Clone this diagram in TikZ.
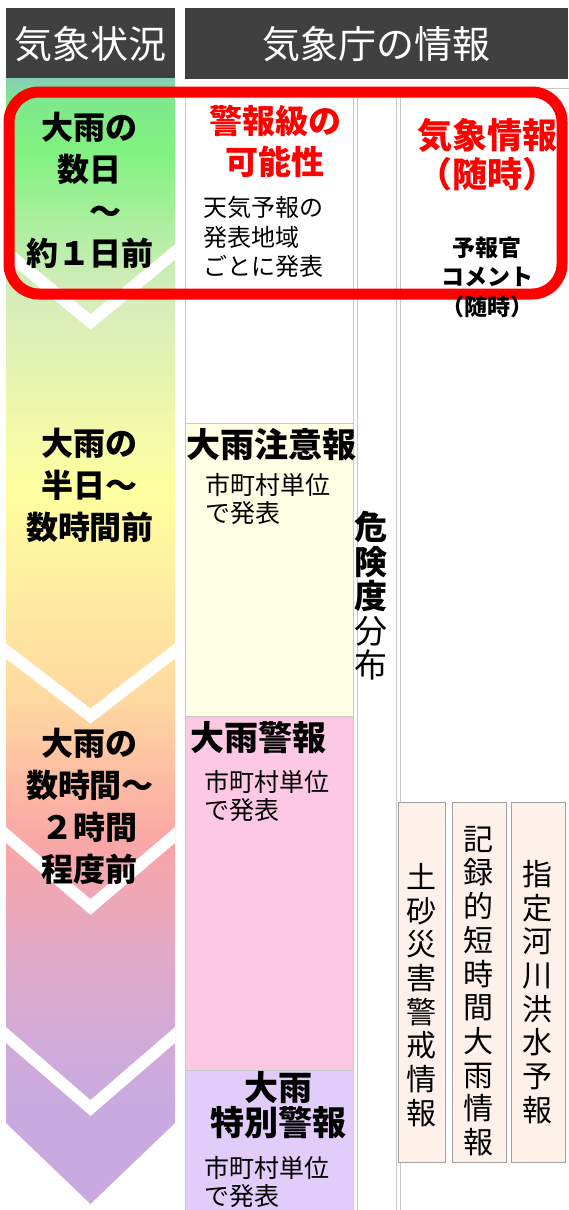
\documentclass[tikz,border=0pt]{standalone}
\usepackage{fontspec}
\setmainfont{Noto Sans CJK JP}
\usetikzlibrary{positioning}
\definecolor{headgray}{HTML}{404040}
\definecolor{linegray}{HTML}{C8C8C8}
\definecolor{boxgray}{HTML}{A0A0A0}
\definecolor{alertred}{HTML}{FF0000}
\definecolor{advisory}{HTML}{FFFFE5}
\definecolor{warning}{HTML}{FDC8E3}
\definecolor{special}{HTML}{E2CCF9}
\definecolor{bulletin}{HTML}{FDF1E9}
\definecolor{teal}{RGB}{134,206,182}
\definecolor{mint}{RGB}{126,232,140}
\definecolor{lime}{RGB}{128,242,128}
\definecolor{pale}{RGB}{212,236,188}
\definecolor{lemon}{RGB}{255,255,160}
\definecolor{peach}{RGB}{255,216,160}
\definecolor{salmon}{RGB}{250,166,166}
\definecolor{mauve}{RGB}{215,170,210}
\definecolor{lilac}{RGB}{200,170,225}

\tikzset{
	headbox/.style={
		fill=headgray,
		text=white,
		anchor=north west,
		inner sep=0pt,
		minimum height=71pt,
		font=\fontsize{38}{40}\selectfont,
	},
	colbox/.style={
		draw=linegray,
		line width=1.3pt,
		anchor=north west,
		inner sep=0pt,
	},
	tatebox/.style={
		draw=boxgray,
		fill=bulletin,
		line width=1.2pt,
		anchor=north west,
		inner sep=0pt,
		minimum height=360pt,
	},
	stage/.style={
		font=\bfseries\fontsize{32}{42}\selectfont,
		align=center,
		inner sep=0pt,
	},
	redtitle/.style={
		text=alertred,
		align=center,
		inner sep=0pt,
	},
	title/.style={
		font=\bfseries\fontsize{34}{35}\selectfont,
		anchor=west,
		inner sep=0pt,
	},
	note/.style={
		font=\fontsize{25}{28}\selectfont,
		align=left,
		anchor=west,
		inner sep=0pt,
	},
	tate/.style={
		font=\fontsize{30}{33.7}\selectfont,
		align=center,
		inner sep=0pt,
	},
}

\begin{document}
\begin{tikzpicture}[x=1pt,y=-1pt]
\useasboundingbox (0,0) rectangle (568,1210);
\node[headbox, minimum width=169pt] (headL) at (6,8) {気象状況};
\node[headbox, minimum width=383pt] (headR) at (185,8) {気象庁の情報};

\begin{scope}
	\clip (6,78) -- (175,78) -- (175,1123) -- (90.5,1204) -- (6,1123) -- cycle;
	\shade[top color=teal, bottom color=mint] (6,78) rectangle (175,101);
	\shade[top color=mint, bottom color=lime] (6,100) rectangle (175,151);
	\shade[top color=lime, bottom color=pale] (6,150) rectangle (175,291);
	\shade[top color=pale, bottom color=lemon] (6,290) rectangle (175,491);
	\shade[top color=lemon, bottom color=peach] (6,490) rectangle (175,701);
	\shade[top color=peach, bottom color=salmon] (6,700) rectangle (175,841);
	\shade[top color=salmon, bottom color=mauve] (6,840) rectangle (175,1001);
	\shade[top color=mauve, bottom color=lilac] (6,1000) rectangle (175,1111);
	\fill[lilac] (6,1110) rectangle (175,1210);
	\foreach \e/\p in {252/322, 651/716, 835/907, 1035/1108} {
		\draw[white, line width=12pt, line cap=rect] (6,\e) -- (90.5,\p) -- (175,\e);
	}
\end{scope}

\node[colbox, minimum width=168pt, minimum height=335pt] (topbox) at (185,88) {};
\node[colbox, fill=advisory, minimum width=168pt, minimum height=293pt] (advbox) at (185,423) {};
\node[colbox, fill=warning, minimum width=168pt, minimum height=354pt] (warnbox) at (185,716) {};
\node[colbox, fill=special, minimum width=168pt, minimum height=160pt] (specbox) at (185,1070) {};
\node[colbox, minimum width=39pt, minimum height=1140pt] (riskcol) at (357,88) {};
\node[colbox, minimum width=200pt, minimum height=1140pt] (infocol) at (400,88) {};
\node[tatebox, minimum width=47pt] (doshabox) at (398,802) {};
\node[tatebox, minimum width=54pt] (kirokubox) at (452,802) {};
\node[tatebox, minimum width=54pt] (kasenbox) at (511,802) {};

\draw[alertred, line width=11pt, rounded corners=30pt] (9,92) rectangle (562,294);

\node[stage] (stage1) at (90,190) {大雨の\\数日\\　～\\約１日前};
\node[stage] (stage2) at (90,485) {大雨の\\半日～\\数時間前};
\node[stage] (stage3) at (90,806) {大雨の\\数時間～\\２時間\\程度前};

\node[redtitle, font=\bfseries\fontsize{33}{41}\selectfont] (level) at (275,141) {警報級の\\可能性};
\node[note, font=\fontsize{24}{29.5}\selectfont] (levelnote) at (203,237) {天気予報の\\発表地域\\ごとに発表};
\node[title] (advtitle) at (186,445) {大雨注意報};
\node[note] (advnote) at (205,499) {市町村単位\\で発表};
\node[title] (warntitle) at (190,738) {大雨警報};
\node[note] (warnnote) at (204,796) {市町村単位\\で発表};
\node[title, anchor=center, align=center] (spectitle) at (278,1105) {大雨\\特別警報};
\node[note] (specnote) at (204,1182) {市町村単位\\で発表};

\node[tate, font=\fontsize{33}{34.5}\selectfont] (risk) at (371,596) {\textbf{危}\\\textbf{険}\\\textbf{度}\\分\\布};

\node[redtitle, font=\bfseries\fontsize{35}{39}\selectfont] (kishou) at (487,155) {気象情報\\（随時）};
\node[stage, font=\bfseries\fontsize{23}{29.5}\selectfont] (comment) at (487,277) {予報官\\コメント\\（随時）};

\node[tate] (dosha) at (421,995) {土\\砂\\災\\害\\警\\戒\\情\\報};
\node[tate] (kiroku) at (478,991) {記\\録\\的\\短\\時\\間\\大\\雨\\情\\報};
\node[tate] (kasen) at (537,992) {指\\定\\河\\川\\洪\\水\\予\\報};
\end{tikzpicture}
\end{document}
